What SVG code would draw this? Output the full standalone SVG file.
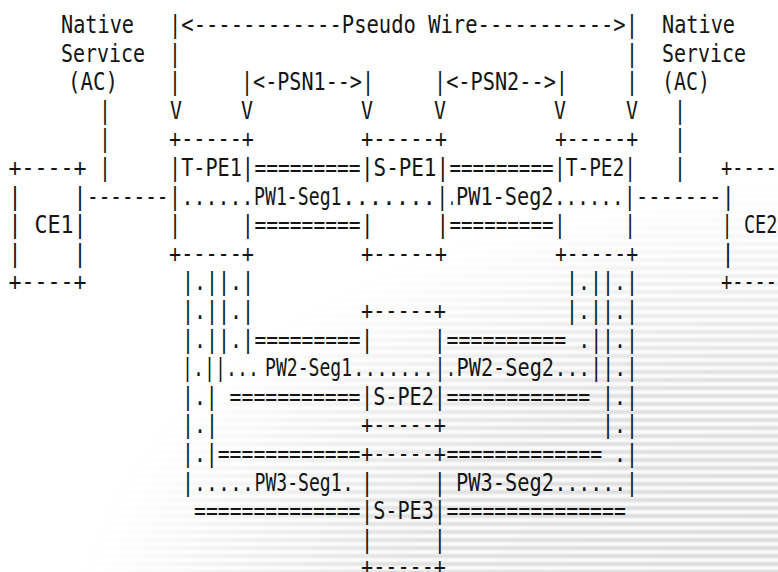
<svg xmlns="http://www.w3.org/2000/svg" width="778" height="572" viewBox="0 0 778 572" xml:space="preserve">
<style>
text{font-family:"DejaVu Sans Mono","Liberation Mono",monospace;font-size:24px;fill:#151515;white-space:pre}
</style>
<defs>
<linearGradient id="sg" x1="0" y1="0" x2="0" y2="1">
<stop offset="0" stop-color="#ffffff"/>
<stop offset="0.5" stop-color="#d2d2d2"/>
<stop offset="1" stop-color="#ffffff"/>
</linearGradient>
<pattern id="stripes" width="8" height="8" patternUnits="userSpaceOnUse">
<rect width="8" height="8" fill="url(#sg)"/>
</pattern>
<radialGradient id="fade" gradientUnits="userSpaceOnUse" cx="0" cy="0" r="1" gradientTransform="translate(830 640) scale(760 460)">
<stop offset="0" stop-color="#fff" stop-opacity="1"/>
<stop offset="0.6" stop-color="#fff" stop-opacity="0.75"/>
<stop offset="1" stop-color="#fff" stop-opacity="0"/>
</radialGradient>
<mask id="m"><rect width="778" height="572" fill="url(#fade)"/></mask>
</defs>
<g id="background">
<rect width="778" height="572" fill="#ffffff"/>
<rect width="778" height="572" fill="url(#stripes)" mask="url(#m)"/>
</g>
<g id="labels">
<text x="61" y="33" textLength="73" lengthAdjust="spacingAndGlyphs">Native</text>
<text x="169" y="33" textLength="469" lengthAdjust="spacingAndGlyphs">|&lt;------------Pseudo Wire-----------&gt;|</text>
<text x="662" y="33" textLength="73" lengthAdjust="spacingAndGlyphs">Native</text>
<text x="61" y="61.6" textLength="84" lengthAdjust="spacingAndGlyphs">Service</text>
<text x="169" y="61.6" textLength="12" lengthAdjust="spacingAndGlyphs">|</text>
<text x="626" y="61.6" textLength="12" lengthAdjust="spacingAndGlyphs">|</text>
<text x="662" y="61.6" textLength="84" lengthAdjust="spacingAndGlyphs">Service</text>
<text x="68" y="90.2" textLength="50" lengthAdjust="spacingAndGlyphs">(AC)</text>
<text x="169" y="90.2" textLength="12" lengthAdjust="spacingAndGlyphs">|</text>
<text x="241" y="90.2" textLength="133" lengthAdjust="spacingAndGlyphs">|&lt;-PSN1--&gt;|</text>
<text x="434" y="90.2" textLength="134" lengthAdjust="spacingAndGlyphs">|&lt;-PSN2--&gt;|</text>
<text x="626" y="90.2" textLength="12" lengthAdjust="spacingAndGlyphs">|</text>
<text x="662" y="90.2" textLength="48" lengthAdjust="spacingAndGlyphs">(AC)</text>
<text x="99" y="118.8" textLength="12" lengthAdjust="spacingAndGlyphs">|</text>
<text x="170" y="118.8" textLength="12" lengthAdjust="spacingAndGlyphs">V</text>
<text x="241" y="118.8" textLength="12" lengthAdjust="spacingAndGlyphs">V</text>
<text x="361" y="118.8" textLength="12" lengthAdjust="spacingAndGlyphs">V</text>
<text x="434" y="118.8" textLength="12" lengthAdjust="spacingAndGlyphs">V</text>
<text x="554" y="118.8" textLength="12" lengthAdjust="spacingAndGlyphs">V</text>
<text x="626" y="118.8" textLength="12" lengthAdjust="spacingAndGlyphs">V</text>
<text x="674" y="118.8" textLength="12" lengthAdjust="spacingAndGlyphs">|</text>
<text x="99" y="147.4" textLength="12" lengthAdjust="spacingAndGlyphs">|</text>
<text x="674" y="147.4" textLength="12" lengthAdjust="spacingAndGlyphs">|</text>
<text x="99" y="176" textLength="12" lengthAdjust="spacingAndGlyphs">|</text>
<text x="674" y="176" textLength="12" lengthAdjust="spacingAndGlyphs">|</text>
</g>
<g id="CE1">
<text x="8.5" y="176" textLength="78" lengthAdjust="spacingAndGlyphs">+----+</text>
<text x="8.5" y="204.6" textLength="78" lengthAdjust="spacingAndGlyphs">|    |</text>
<text x="8.5" y="233.2" textLength="78" lengthAdjust="spacingAndGlyphs">| CE1|</text>
<text x="8.5" y="261.8" textLength="78" lengthAdjust="spacingAndGlyphs">|    |</text>
<text x="8.5" y="290.4" textLength="78" lengthAdjust="spacingAndGlyphs">+----+</text>
</g>
<g id="T-PE1">
<text x="169" y="147.4" textLength="85" lengthAdjust="spacingAndGlyphs">+-----+</text>
<text x="169" y="176" textLength="85" lengthAdjust="spacingAndGlyphs">|T-PE1|</text>
<text x="169" y="204.6" textLength="12" lengthAdjust="spacingAndGlyphs">|</text>
<text x="169" y="233.2" textLength="85" lengthAdjust="spacingAndGlyphs">|     |</text>
<text x="169" y="261.8" textLength="85" lengthAdjust="spacingAndGlyphs">+-----+</text>
</g>
<g id="S-PE1">
<text x="361" y="147.4" textLength="86" lengthAdjust="spacingAndGlyphs">+-----+</text>
<text x="361" y="176" textLength="88" lengthAdjust="spacingAndGlyphs">|S-PE1|</text>
<text x="436.5" y="204.6" textLength="11.5" lengthAdjust="spacingAndGlyphs">|</text>
<text x="361" y="233.2" textLength="88" lengthAdjust="spacingAndGlyphs">|     |</text>
<text x="361" y="261.8" textLength="86" lengthAdjust="spacingAndGlyphs">+-----+</text>
</g>
<g id="T-PE2">
<text x="555" y="147.4" textLength="83" lengthAdjust="spacingAndGlyphs">+-----+</text>
<text x="554" y="176" textLength="82" lengthAdjust="spacingAndGlyphs">|T-PE2|</text>
<text x="624" y="204.6" textLength="11.5" lengthAdjust="spacingAndGlyphs">|</text>
<text x="554" y="233.2" textLength="82" lengthAdjust="spacingAndGlyphs">|     |</text>
<text x="555" y="261.8" textLength="83" lengthAdjust="spacingAndGlyphs">+-----+</text>
</g>
<g id="CE2">
<text x="721" y="176" textLength="56" lengthAdjust="spacingAndGlyphs">+----</text>
<text x="722" y="204.6" textLength="12.5" lengthAdjust="spacingAndGlyphs">|</text>
<text x="721.5" y="233.2" textLength="56" lengthAdjust="spacingAndGlyphs">| CE2</text>
<text x="721.5" y="261.8" textLength="13" lengthAdjust="spacingAndGlyphs">|</text>
<text x="721" y="290.4" textLength="56" lengthAdjust="spacingAndGlyphs">+----</text>
</g>
<g id="S-PE2">
<text x="361" y="319" textLength="85" lengthAdjust="spacingAndGlyphs">+-----+</text>
<text x="361" y="347.6" textLength="85" lengthAdjust="spacingAndGlyphs">|     |</text>
<text x="434.5" y="376.2" textLength="11" lengthAdjust="spacingAndGlyphs">|</text>
<text x="361" y="404.8" textLength="85" lengthAdjust="spacingAndGlyphs">|S-PE2|</text>
<text x="361" y="433.4" textLength="85" lengthAdjust="spacingAndGlyphs">+-----+</text>
</g>
<g id="S-PE3">
<text x="361" y="462" textLength="85" lengthAdjust="spacingAndGlyphs">+-----+</text>
<text x="361" y="490.6" textLength="85" lengthAdjust="spacingAndGlyphs">|     |</text>
<text x="361" y="519.2" textLength="85" lengthAdjust="spacingAndGlyphs">|S-PE3|</text>
<text x="361" y="547.8" textLength="85" lengthAdjust="spacingAndGlyphs">|     |</text>
<text x="361" y="575" textLength="85" lengthAdjust="spacingAndGlyphs">+-----+</text>
</g>
<g id="connectors">
<text x="87" y="204.6" textLength="81.5" lengthAdjust="spacingAndGlyphs">-------</text>
<text x="636" y="204.6" textLength="85.5" lengthAdjust="spacingAndGlyphs">-------</text>
<text x="254.5" y="176" textLength="106" lengthAdjust="spacingAndGlyphs">=========</text>
<text x="449.5" y="176" textLength="104" lengthAdjust="spacingAndGlyphs">=========</text>
<text x="254.5" y="233.2" textLength="106" lengthAdjust="spacingAndGlyphs">=========</text>
<text x="449.5" y="233.2" textLength="104" lengthAdjust="spacingAndGlyphs">=========</text>
<text x="181.5" y="204.6" textLength="72" lengthAdjust="spacingAndGlyphs">......</text>
<text x="254" y="204.6" textLength="87.5" lengthAdjust="spacingAndGlyphs">PW1-Seg1</text>
<text x="342" y="204.6" textLength="94" lengthAdjust="spacingAndGlyphs">.......</text>
<text x="448.5" y="204.6" textLength="7" lengthAdjust="spacingAndGlyphs">.</text>
<text x="456" y="204.6" textLength="97.5" lengthAdjust="spacingAndGlyphs">PW1-Seg2</text>
<text x="554" y="204.6" textLength="69.5" lengthAdjust="spacingAndGlyphs">......</text>
<text x="182" y="290.4" textLength="72" lengthAdjust="spacingAndGlyphs">|.||.|</text>
<text x="566" y="290.4" textLength="72" lengthAdjust="spacingAndGlyphs">|.||.|</text>
<text x="182" y="319" textLength="72" lengthAdjust="spacingAndGlyphs">|.||.|</text>
<text x="566" y="319" textLength="72" lengthAdjust="spacingAndGlyphs">|.||.|</text>
<text x="182" y="347.6" textLength="72" lengthAdjust="spacingAndGlyphs">|.||.|</text>
<text x="254.5" y="347.6" textLength="106" lengthAdjust="spacingAndGlyphs">=========</text>
<text x="446.5" y="347.6" textLength="191.5" lengthAdjust="spacingAndGlyphs">========== .||.|</text>
<text x="182" y="376.2" textLength="77" lengthAdjust="spacingAndGlyphs">|.||...</text>
<text x="265" y="376.2" textLength="87" lengthAdjust="spacingAndGlyphs">PW2-Seg1</text>
<text x="353" y="376.2" textLength="81" lengthAdjust="spacingAndGlyphs">.......</text>
<text x="446" y="376.2" textLength="10" lengthAdjust="spacingAndGlyphs">.</text>
<text x="456.5" y="376.2" textLength="97.5" lengthAdjust="spacingAndGlyphs">PW2-Seg2</text>
<text x="554.5" y="376.2" textLength="83.5" lengthAdjust="spacingAndGlyphs">...||.|</text>
<text x="182" y="404.8" textLength="178.5" lengthAdjust="spacingAndGlyphs">|.| ===========</text>
<text x="446.5" y="404.8" textLength="191.5" lengthAdjust="spacingAndGlyphs">============ |.|</text>
<text x="182" y="433.4" textLength="36" lengthAdjust="spacingAndGlyphs">|.|</text>
<text x="602" y="433.4" textLength="36" lengthAdjust="spacingAndGlyphs">|.|</text>
<text x="182" y="462" textLength="178.5" lengthAdjust="spacingAndGlyphs">|.|============</text>
<text x="446.5" y="462" textLength="191.5" lengthAdjust="spacingAndGlyphs">============= .|</text>
<text x="182" y="490.6" textLength="72" lengthAdjust="spacingAndGlyphs">|.....</text>
<text x="254.5" y="490.6" textLength="87" lengthAdjust="spacingAndGlyphs">PW3-Seg1</text>
<text x="342" y="490.6" textLength="12" lengthAdjust="spacingAndGlyphs">.</text>
<text x="456" y="490.6" textLength="98" lengthAdjust="spacingAndGlyphs">PW3-Seg2</text>
<text x="554.5" y="490.6" textLength="83.5" lengthAdjust="spacingAndGlyphs">......|</text>
<text x="194" y="519.2" textLength="166.5" lengthAdjust="spacingAndGlyphs">==============</text>
<text x="446.5" y="519.2" textLength="179.5" lengthAdjust="spacingAndGlyphs">===============</text>
</g>
</svg>
